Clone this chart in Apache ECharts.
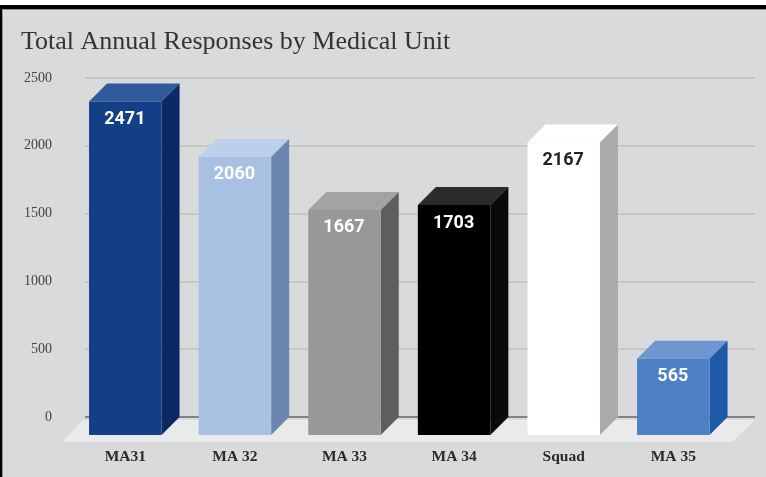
<!DOCTYPE html>
<html><head><meta charset="utf-8">
<script src="https://cdn.jsdelivr.net/npm/echarts@6/dist/echarts.min.js"></script>
<style>html,body{margin:0;padding:0;background:#d9dadb}#c{width:766px;height:477px}</style>
</head><body><div id="c"></div>
<script>
var categories = ['MA31','MA 32','MA 33','MA 34','Squad','MA 35'];
var responses = [2471,2060,1667,1703,2167,565];
var yTicks = [0,500,1000,1500,2000,2500];
var frontColors = ['#123f85','#a8c0e2','#989898','#000000','#ffffff','#4f7fc4'];
var topColors = ['#2f5a9c','#bdd0ea','#a3a3a3','#2b2b2b','#ffffff','#6d97d0'];
var sideColors = ['#0b2a63','#6a85ae','#5e5e5e','#0a0a0a','#a9aaab','#1f5aa8'];
var labelColors = ['#ffffff','#ffffff','#ffffff','#ffffff','#222222','#ffffff'];

var chart = echarts.init(document.getElementById('c'), null, {renderer:'canvas'});
var DEPTH = 18, BAR_W = 72.5;
chart.setOption({
  backgroundColor:'#d9dadb',
  animation:false,
  title:{text:'Total Annual Responses by Medical Unit',left:21,top:29,padding:0,
    textStyle:{fontFamily:'Liberation Serif',fontSize:26,fontWeight:'normal',color:'#333333'}},
  graphic:[
    {type:'rect',z:1,shape:{x:0,y:0,width:766,height:5},style:{fill:'#ffffff'}},
    {type:'rect',z:2,shape:{x:0,y:5,width:766,height:4},style:{fill:'#000'}},
    {type:'rect',z:1,shape:{x:0,y:9,width:766,height:1},style:{fill:'#8f8f8f'}},
    {type:'rect',z:2,shape:{x:0,y:5,width:2,height:472},style:{fill:'#000'}},
    {type:'rect',z:1,shape:{x:2,y:9,width:1,height:468},style:{fill:'#9a9a9a'}},
    {type:'polygon',z:1,shape:{points:[[83,420],[755,420],[732,442],[62,442]]},style:{fill:'#e9eaeb'}}
  ],
  grid:[
    {left:85,right:11,top:78,bottom:60},
    {left:70.5,width:657.6,top:97.5,bottom:42}
  ],
  xAxis:[
    {type:'category',gridIndex:0,data:categories,axisLabel:{show:false},axisTick:{show:false},axisLine:{show:false}},
    {type:'category',gridIndex:1,data:categories,axisTick:{show:false},axisLine:{show:false},
      axisLabel:{margin:14,fontFamily:'Liberation Serif',fontSize:15.5,fontWeight:'bold',color:'#2a2a2a'}}
  ],
  yAxis:[
    {type:'value',gridIndex:0,min:0,max:2500,interval:500,
      axisLine:{show:false},axisTick:{show:false},
      axisLabel:{margin:33,fontFamily:'Liberation Serif',fontSize:14,color:'#444444',
        formatter:function(v){return yTicks.indexOf(v)>=0?String(v):'';}},
      splitLine:{show:true,lineStyle:{color:'#bfc0c1',width:1.5}}},
    {type:'value',gridIndex:1,min:0,max:2500,interval:500,show:false,splitLine:{show:false}}
  ],
  series:[{
    type:'line',xAxisIndex:0,yAxisIndex:0,data:[],silent:true,symbol:'none',
    markLine:{silent:true,symbol:'none',label:{show:false},z:1,
      lineStyle:{color:'#6b6b6b',width:1.5,type:'solid'},data:[{yAxis:0}]}
  },{
    type:'custom',xAxisIndex:1,yAxisIndex:1,z:5,
    data:responses.map(function(v,i){return [i,v];}),
    renderItem:function(params,api){
      var i=api.value(0), v=api.value(1);
      var base=api.coord([i,0]), top=api.coord([i,v]);
      var l=base[0]-BAR_W/2, r=base[0]+BAR_W/2, t=top[1], b=base[1], d=DEPTH;
      return {type:'group',children:[
        {type:'polygon',shape:{points:[[l,t],[r,t],[r+d,t-d],[l+d,t-d]]},style:{fill:topColors[i]}},
        {type:'polygon',shape:{points:[[r,t],[r+d,t-d],[r+d,b-d],[r,b]]},style:{fill:sideColors[i]}},
        {type:'rect',shape:{x:l,y:t,width:BAR_W,height:b-t},style:{fill:frontColors[i]}},
        {type:'text',style:{text:String(v),x:base[0]-0.5,y:t+18,align:'center',verticalAlign:'middle',
          font:'bold 18px Roboto',fill:labelColors[i]}}
      ]};
    }
  }]
});
</script></body></html>
